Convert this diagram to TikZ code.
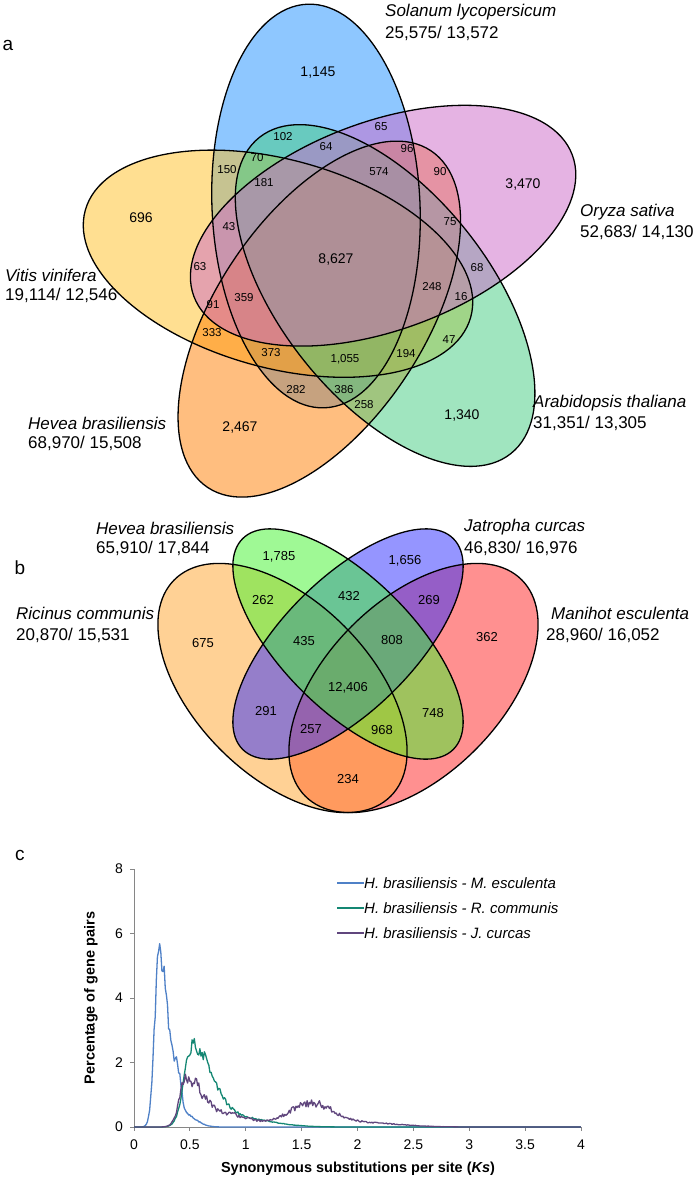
\documentclass[tikz,border=0pt]{standalone}
\usepackage{fontspec}
\setmainfont{Liberation Sans}
\definecolor{VennBlue}{RGB}{30,144,255}
\definecolor{VennPink}{RGB}{205,105,201}
\definecolor{VennYellow}{RGB}{255,193,37}
\definecolor{VennOrange}{RGB}{255,127,0}
\definecolor{VennGreen}{RGB}{67,205,128}
\definecolor{QuadRed}{RGB}{255,35,35}
\definecolor{QuadOrange}{RGB}{255,165,45}
\definecolor{QuadBlue}{RGB}{45,45,255}
\definecolor{QuadGreen}{RGB}{65,245,45}
\definecolor{KsBlue}{RGB}{79,129,199}
\definecolor{KsTeal}{RGB}{20,135,115}
\definecolor{KsPurple}{RGB}{96,70,125}
\definecolor{AxisGray}{RGB}{134,134,134}
\pgfmathdeclarefunction{skewbump}{4}{%
  \begingroup
  \pgfmathparse{(#1<#2)?#3:#4}\let\bumpsig\pgfmathresult
  \pgfmathparse{min(abs((#1-#2)/\bumpsig),7)}%
  \pgfmathparse{exp(-0.5*\pgfmathresult*\pgfmathresult)}%
  \pgfmathsmuggle\pgfmathresult
  \endgroup}

\begin{document}
\begin{tikzpicture}[x=1pt,y=1pt,
  vennline/.style={draw=black,line width=1.3pt},
  num/.style={font=\fontsize{11.5}{13}\selectfont,inner sep=0pt},
  bignum/.style={font=\fontsize{14}{16}\selectfont,inner sep=0pt},
  quadnum/.style={font=\fontsize{13}{15}\selectfont,inner sep=0pt},
  taxon/.style={font=\fontsize{17}{20}\selectfont\itshape,anchor=west,inner sep=0pt},
  count/.style={font=\fontsize{17}{20}\selectfont,anchor=west,inner sep=0pt},
  panel/.style={font=\fontsize{19}{22}\selectfont,inner sep=0pt},
  tick/.style={font=\fontsize{14}{16}\selectfont,inner sep=0pt},
  axistitle/.style={font=\fontsize{14.5}{17}\selectfont\bfseries,inner sep=0pt},
  legtext/.style={font=\fontsize{15}{18}\selectfont\itshape,anchor=west,inner sep=0pt},
  axisline/.style={draw=AxisGray,line width=0.8pt},
  ksline/.style={line width=1.3pt,line join=round}]
\fill[white] (0,0) rectangle (697,-1179);
\useasboundingbox (0,0) rectangle (697,-1179);

% a: five-set Venn
\fill[VennBlue,fill opacity=.5,rotate around={92.5:(316,-206)}] (316,-206) ellipse[x radius=202,y radius=104];
\fill[VennYellow,fill opacity=.5,rotate around={164.5:(278,-263.7)}] (278,-263.7) ellipse[x radius=200,y radius=104];
\fill[VennOrange,fill opacity=.5,rotate around={-123.5:(319.3,-319.1)}] (319.3,-319.1) ellipse[x radius=202,y radius=104];
\fill[VennGreen,fill opacity=.5,rotate around={-51.5:(385.1,-295.5)}] (385.1,-295.5) ellipse[x radius=202,y radius=104];
\fill[VennPink,fill opacity=.5,rotate around={20.5:(383.1,-225.7)}] (383.1,-225.7) ellipse[x radius=202,y radius=104];
\draw[vennline,rotate around={92.5:(316,-206)}] (316,-206) ellipse[x radius=202,y radius=104];
\draw[vennline,rotate around={164.5:(278,-263.7)}] (278,-263.7) ellipse[x radius=200,y radius=104];
\draw[vennline,rotate around={-123.5:(319.3,-319.1)}] (319.3,-319.1) ellipse[x radius=202,y radius=104];
\draw[vennline,rotate around={-51.5:(385.1,-295.5)}] (385.1,-295.5) ellipse[x radius=202,y radius=104];
\draw[vennline,rotate around={20.5:(383.1,-225.7)}] (383.1,-225.7) ellipse[x radius=202,y radius=104];

\node[panel] (pa) at (8,-45) {a};
\node[taxon] (sol) at (385,-12) {Solanum lycopersicum};
\node[count] (solN) at (385,-33) {25,575/ 13,572};
\node[taxon] (ory) at (580,-212) {Oryza sativa};
\node[count] (oryN) at (580,-232) {52,683/ 14,130};
\node[taxon] (vit) at (5,-275) {Vitis vinifera};
\node[count] (vitN) at (5,-295) {19,114/ 12,546};
\node[taxon] (hevA) at (28,-423) {Hevea brasiliensis};
\node[count] (hevAN) at (28,-443) {68,970/ 15,508};
\node[taxon] (ara) at (533,-403) {Arabidopsis thaliana};
\node[count] (araN) at (533,-423) {31,351/ 13,305};

\node[bignum] (a1145) at (318,-73) {1,145};
\node[bignum] (a3470) at (523,-185) {3,470};
\node[bignum] (a696) at (141,-218) {696};
\node[bignum] (a8627) at (336,-260) {8,627};
\node[bignum] (a2467) at (240,-427) {2,467};
\node[bignum] (a1340) at (462,-415) {1,340};
\node[num] (a102) at (283,-137) {102};
\node[num] (a65) at (381,-127) {65};
\node[num] (a64) at (326,-147) {64};
\node[num] (a96) at (407,-149) {96};
\node[num] (a70) at (257,-158) {70};
\node[num] (a150) at (227,-170) {150};
\node[num] (a574) at (379,-172) {574};
\node[num] (a90) at (440,-172) {90};
\node[num] (a181) at (264,-183) {181};
\node[num] (a43) at (229,-227) {43};
\node[num] (a75) at (450,-222) {75};
\node[num] (a63) at (200,-267) {63};
\node[num] (a68) at (477,-268) {68};
\node[num] (a248) at (432,-287) {248};
\node[num] (a359) at (244,-298) {359};
\node[num] (a16) at (461,-297) {16};
\node[num] (a91) at (213,-305) {91};
\node[num] (a333) at (212,-333) {333};
\node[num] (a47) at (449,-340) {47};
\node[num] (a373) at (271,-353) {373};
\node[num] (a1055) at (345,-359) {1,055};
\node[num] (a194) at (406,-354) {194};
\node[num] (a282) at (296,-390) {282};
\node[num] (a386) at (344,-390) {386};
\node[num] (a258) at (364,-405) {258};

% b: four-set Venn
\fill[QuadRed,fill opacity=.5,rotate around={45:(413.5,-688)}] (413.5,-688) ellipse[x radius=153,y radius=87.4];
\fill[QuadOrange,fill opacity=.5,rotate around={135:(282.5,-688)}] (282.5,-688) ellipse[x radius=153,y radius=87.4];
\fill[QuadBlue,fill opacity=.5,rotate around={45:(348,-644)}] (348,-644) ellipse[x radius=149,y radius=65.6];
\fill[QuadGreen,fill opacity=.5,rotate around={135:(348,-644)}] (348,-644) ellipse[x radius=149,y radius=65.6];
\draw[vennline,rotate around={45:(413.5,-688)}] (413.5,-688) ellipse[x radius=153,y radius=87.4];
\draw[vennline,rotate around={135:(282.5,-688)}] (282.5,-688) ellipse[x radius=153,y radius=87.4];
\draw[vennline,rotate around={45:(348,-644)}] (348,-644) ellipse[x radius=149,y radius=65.6];
\draw[vennline,rotate around={135:(348,-644)}] (348,-644) ellipse[x radius=149,y radius=65.6];

\node[panel] (pb) at (20,-568) {b};
\node[taxon] (hevB) at (96,-528) {Hevea brasiliensis};
\node[count] (hevBN) at (96,-548) {65,910/ 17,844};
\node[taxon] (jat) at (464,-527) {Jatropha curcas};
\node[count] (jatN) at (464,-548) {46,830/ 16,976};
\node[taxon] (ric) at (16,-613) {Ricinus communis};
\node[count] (ricN) at (16,-635) {20,870/ 15,531};
\node[taxon] (man) at (551,-613) {Manihot esculenta};
\node[count] (manN) at (546,-635) {28,960/ 16,052};

\node[quadnum] (b1785) at (279,-557) {1,785};
\node[quadnum] (b1656) at (405,-561) {1,656};
\node[quadnum] (b262) at (263,-600) {262};
\node[quadnum] (b432) at (349,-596) {432};
\node[quadnum] (b269) at (429,-600) {269};
\node[quadnum] (b675) at (203,-643) {675};
\node[quadnum] (b435) at (304,-641) {435};
\node[quadnum] (b808) at (392,-640) {808};
\node[quadnum] (b362) at (487,-637) {362};
\node[quadnum] (b12406) at (348,-688) {12,406};
\node[quadnum] (b291) at (266,-711) {291};
\node[quadnum] (b748) at (433,-713) {748};
\node[quadnum] (b257) at (311,-729) {257};
\node[quadnum] (b968) at (382,-730) {968};
\node[quadnum] (b234) at (348,-779) {234};

% c: Ks distributions
\node[panel] (pc) at (20,-855) {c};
\begin{scope}[shift={(134,-1127)},x=111.75pt,y=32.25pt]
  \draw[axisline] (0,0) -- (4,0);
  \draw[axisline] (0,0) -- (0,8);
  \foreach \y in {0,2,4,6,8} {
    \draw[axisline] (0,\y) -- ++(-4pt,0);
    \node[tick,anchor=east,xshift=-11pt] (yt\y) at (0,\y) {\y};
  }
  \foreach \v [count=\i] in {0,0.5,1,1.5,2,2.5,3,3.5,4} {
    \draw[axisline] (\v,0) -- ++(0,-4pt);
    \node[tick,yshift=-18pt] (xt\i) at (\v,0) {\v};
  }
  \pgfmathsetseed{11}
  \draw[ksline,KsBlue] plot[domain=0:4,samples=401]
    (\x,{max(0,(5.4*skewbump(\x,0.225,0.04,0.08)+1.0*skewbump(\x,0.39,0.03,0.03)+0.4*skewbump(\x,0.45,0.1,0.1))*(1+0.09*rand))});
  \draw[ksline,KsTeal] plot[domain=0:4,samples=401]
    (\x,{max(0,(2.5*skewbump(\x,0.52,0.07,0.17)+0.3*skewbump(\x,0.9,0.2,0.3))*(1+0.09*rand))});
  \draw[ksline,KsPurple] plot[domain=0:4,samples=401]
    (\x,{max(0,(1.45*skewbump(\x,0.47,0.06,0.12)+0.45*skewbump(\x,0.75,0.15,0.25)+0.72*skewbump(\x,1.58,0.2,0.2)+0.12*skewbump(\x,2.1,0.3,0.3))*(1+0.16*rand))});
\end{scope}
\node[axistitle,rotate=90] (ytitle) at (91,-998) {Percentage of gene pairs};
\node[axistitle] (xtitle) at (358,-1169) {Synonymous substitutions per site (\textit{Ks})};
\node[legtext] (leg1) at (364,-883) {H. brasiliensis - M. esculenta};
\node[legtext] (leg2) at (364,-908) {H. brasiliensis - R. communis};
\node[legtext] (leg3) at (364,-933) {H. brasiliensis - J. curcas};
\draw[ksline,KsBlue] (leg1.west) -- ++(-27,0);
\draw[ksline,KsTeal] (leg2.west) -- ++(-27,0);
\draw[ksline,KsPurple] (leg3.west) -- ++(-27,0);
\end{tikzpicture}
\end{document}
